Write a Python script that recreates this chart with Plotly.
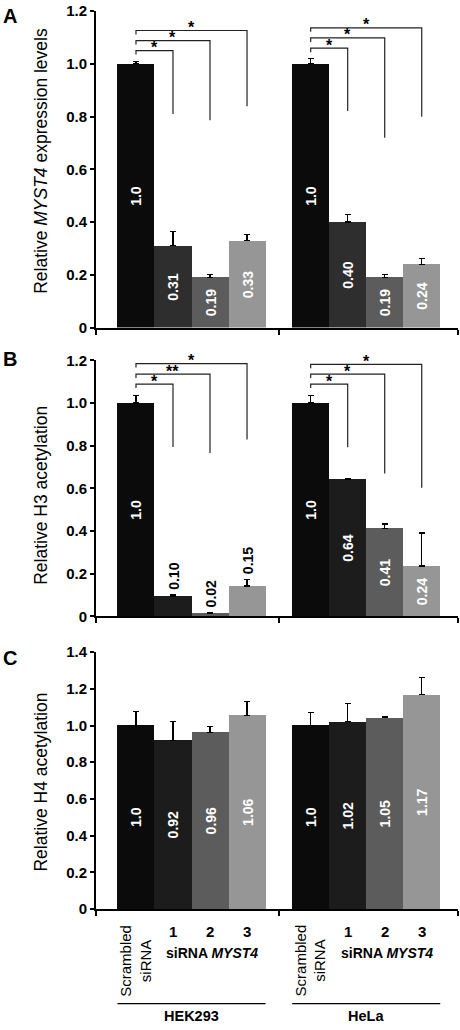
import plotly.graph_objects as go

# ---------------- data ----------------
groups = ["HEK293", "HeLa"]
bar_labels_x = ["Scrambled<br>siRNA", "1", "2", "3"]

# Panel A: relative MYST4 expression
a_vals = [[1.0, 0.31, 0.19, 0.33], [1.0, 0.40, 0.19, 0.24]]
a_err = [[0.01, 0.055, 0.01, 0.023], [0.02, 0.03, 0.01, 0.023]]
a_text = [["1.0", "0.31", "0.19", "0.33"], ["1.0", "0.40", "0.19", "0.24"]]

# Panel B: relative H3 acetylation
b_vals = [[1.0, 0.095, 0.012, 0.142], [1.0, 0.64, 0.413, 0.236]]
b_err = [[0.035, 0.008, 0.004, 0.03], [0.035, 0.008, 0.02, 0.155]]
b_text = [["1.0", "0.10", "0.02", "0.15"], ["1.0", "0.64", "0.41", "0.24"]]
b_outside = [[False, True, True, True], [False, False, False, False]]

# Panel C: relative H4 acetylation
c_vals = [[1.0, 0.92, 0.964, 1.055], [1.0, 1.02, 1.043, 1.167]]
c_err = [[0.077, 0.10, 0.03, 0.078], [0.07, 0.10, 0.005, 0.095]]
c_text = [["1.0", "0.92", "0.96", "1.06"], ["1.0", "1.02", "1.05", "1.17"]]

# significance brackets (top level, end level of right leg)
a_brk_top = [[1.05, 1.088, 1.126], [1.059, 1.098, 1.136]]
a_brk_end = [[0.81, 0.786, 0.839], [0.821, 0.72, 0.799]]
a_stars = [["*", "*", "*"], ["*", "*", "*"]]
b_brk_top = [[1.089, 1.136, 1.185], [1.089, 1.136, 1.182]]
b_brk_end = [[0.794, 0.766, 0.829], [0.793, 0.67, 0.603]]
b_stars = [["*", "**", "*"], ["*", "*", "*"]]

a_colors = ["#0b0b0b", "#2e2e2e", "#5c5c5c", "#969696"]
bc_colors = ["#0b0b0b", "#1c1c1c", "#5c5c5c", "#969696"]

# ---------------- geometry ----------------
W, H = 460, 1030
ML, MR, MT, MB = 96, 2, 7, 121
PW, PH = W - ML - MR, H - MT - MB


def py(px):
    return 1 - (px - MT) / PH


def pxx(px):
    return (px - ML) / PW


group_start = [0.0, 4.72]
XR = [-1.08, 8.70]
XTICKS = [-1.08, 3.86, 8.70]

FONT = "Arial, Liberation Sans, sans-serif"

fig = go.Figure()

panels = [
    dict(vals=a_vals, err=a_err, text=a_text, colors=a_colors, outside=None,
         xa="x", ya="y", dom=[py(325), py(7)], rng=[0, 1.2],
         tv=[0, 0.2, 0.4, 0.6, 0.8, 1.0, 1.2],
         tt=["0", "0.2", "0.4", "0.6", "0.8", "1.0", "1.2"],
         brk_top=a_brk_top, brk_end=a_brk_end, stars=a_stars,
         title="Relative <i>MYST4</i> expression levels", tcy=157.5,
         letter="A", ly=12),
    dict(vals=b_vals, err=b_err, text=b_text, colors=bc_colors, outside=b_outside,
         xa="x2", ya="y2", dom=[py(615), py(358)], rng=[0, 1.2],
         tv=[0, 0.2, 0.4, 0.6, 0.8, 1.0, 1.2],
         tt=["0", "0.2", "0.4", "0.6", "0.8", "1.0", "1.2"],
         brk_top=b_brk_top, brk_end=b_brk_end, stars=b_stars,
         title="Relative H3 acetylation", tcy=494, letter="B", ly=357),
    dict(vals=c_vals, err=c_err, text=c_text, colors=bc_colors, outside=None,
         xa="x3", ya="y3", dom=[py(909), py(651)], rng=[0, 1.4],
         tv=[0, 0.2, 0.4, 0.6, 0.8, 1.0, 1.2, 1.4],
         tt=["0", "0.2", "0.4", "0.6", "0.8", "1.0", "1.2", "1.4"],
         brk_top=None, brk_end=None, stars=None,
         title="Relative H4 acetylation", tcy=782, letter="C", ly=657),
]

annotations = []
shapes = []
LBL = 14

for pi, p in enumerate(panels):
    xs, ys, es, ts, cols = [], [], [], [], []
    for g in range(2):
        for i in range(4):
            x = group_start[g] + i
            v = p["vals"][g][i]
            e = p["err"][g][i]
            out = p["outside"][g][i] if p["outside"] else False
            xs.append(x)
            ys.append(v)
            es.append(e)
            cols.append(p["colors"][i])
            if out:
                ts.append("")
                annotations.append(dict(
                    x=x, y=v + e, xref=p["xa"], yref=p["ya"], text=p["text"][g][i],
                    textangle=-90, showarrow=False, xanchor="center", yanchor="bottom",
                    yshift=3, xshift=1,
                    font=dict(size=LBL, family=FONT, color="black", weight="bold")))
            else:
                ts.append(p["text"][g][i])
    fig.add_trace(go.Bar(
        x=xs, y=ys, width=1.0, marker=dict(color=cols, line=dict(width=0)),
        text=ts, textposition="inside", textangle=-90, insidetextanchor="middle",
        constraintext="none", cliponaxis=False,
        insidetextfont=dict(color="white", size=LBL, family=FONT, weight="bold"),
        error_y=dict(type="data", symmetric=False, array=es,
                     arrayminus=[0] * len(es), color="black", thickness=1.2, width=3),
        xaxis=p["xa"], yaxis=p["ya"], showlegend=False, hoverinfo="skip",
    ))

    # brackets
    if p["brk_top"]:
        span = p["rng"][1] - p["rng"][0]
        dompx = (p["dom"][1] - p["dom"][0]) * PH
        drop = 4 * span / dompx
        for g in range(2):
            bx, by = [], []
            x0 = group_start[g]
            for k in range(3):
                x1 = group_start[g] + k + 1
                top = p["brk_top"][g][k]
                end = p["brk_end"][g][k]
                bx += [x0, x0, x1, x1, None]
                by += [top - drop, top, top, end, None]
                annotations.append(dict(
                    x=(x0 + x1) / 2, y=top, xref=p["xa"], yref=p["ya"],
                    text=p["stars"][g][k], showarrow=False, yanchor="middle",
                    yshift=3,
                    font=dict(size=16, family=FONT, color="black", weight="bold")))
            fig.add_trace(go.Scatter(
                x=bx, y=by, mode="lines", line=dict(color="#222222", width=1.2),
                xaxis=p["xa"], yaxis=p["ya"], showlegend=False, hoverinfo="skip",
                cliponaxis=False))

    # axis titles and panel letters
    annotations.append(dict(
        x=pxx(41), y=py(p["tcy"]), xref="paper", yref="paper", text=p["title"],
        textangle=-90, showarrow=False, xanchor="center", yanchor="middle",
        font=dict(size=17.5, family=FONT, color="black")))
    annotations.append(dict(
        x=pxx(1), y=py(p["ly"]), xref="paper", yref="paper", text=p["letter"],
        showarrow=False, xanchor="left", yanchor="middle",
        font=dict(size=20, family=FONT, color="black", weight="bold")))

axis_common_x = dict(range=XR, showline=True, linewidth=2, linecolor="black",
                     showgrid=False, zeroline=False, showticklabels=False,
                     tickmode="array", tickvals=XTICKS, ticks="outside",
                     ticklen=5, tickwidth=2, tickcolor="black", fixedrange=True)

layout = dict(
    width=W, height=H, margin=dict(l=ML, r=MR, t=MT, b=MB),
    paper_bgcolor="white", plot_bgcolor="white", font=dict(family=FONT),
    bargap=0, showlegend=False,
)
for pi, p in enumerate(panels):
    sfx = "" if pi == 0 else str(pi + 1)
    layout["xaxis" + sfx] = dict(axis_common_x, anchor="y" + sfx, domain=[0, 1])
    layout["yaxis" + sfx] = dict(
        range=p["rng"], domain=p["dom"], anchor="x" + sfx, showline=True,
        linewidth=2, linecolor="black", showgrid=False, zeroline=False,
        tickmode="array", tickvals=p["tv"], ticktext=p["tt"], ticks="outside",
        ticklen=4, tickwidth=2, tickcolor="black", fixedrange=True,
        tickfont=dict(size=15, family=FONT, color="black", weight="bold"))

# bottom category labels
for g in range(2):
    annotations.append(dict(
        x=group_start[g], y=py(961), xref="x3", yref="paper",
        text=bar_labels_x[0], textangle=-90, showarrow=False,
        xanchor="center", yanchor="middle",
        font=dict(size=15, family=FONT, color="black")))
    for i in range(1, 4):
        annotations.append(dict(
            x=group_start[g] + i, y=py(932), xref="x3", yref="paper",
            text=bar_labels_x[i], showarrow=False, xanchor="center", yanchor="middle",
            font=dict(size=15, family=FONT, color="black", weight="bold")))
    annotations.append(dict(
        x=group_start[g] + 2.05, y=py(953), xref="x3", yref="paper",
        text="siRNA <i>MYST4</i>", showarrow=False, xanchor="center", yanchor="middle",
        font=dict(size=14, family=FONT, color="black", weight="bold")))
    shapes.append(dict(type="line", xref="x3", yref="paper",
                       x0=group_start[g] - 0.5, x1=group_start[g] + 3.5,
                       y0=py(1004), y1=py(1004),
                       line=dict(color="black", width=1.2)))
    annotations.append(dict(
        x=group_start[g] + 1.5, y=py(1016), xref="x3", yref="paper",
        text=groups[g], showarrow=False, xanchor="center", yanchor="middle",
        font=dict(size=14.5, family=FONT, color="black", weight="bold")))

layout["annotations"] = annotations
layout["shapes"] = shapes
fig.update_layout(**layout)

fig.write_html("out.html", config={"displayModeBar": False},
               post_script="document.body.style.margin='0';document.body.style.overflow='hidden';")
